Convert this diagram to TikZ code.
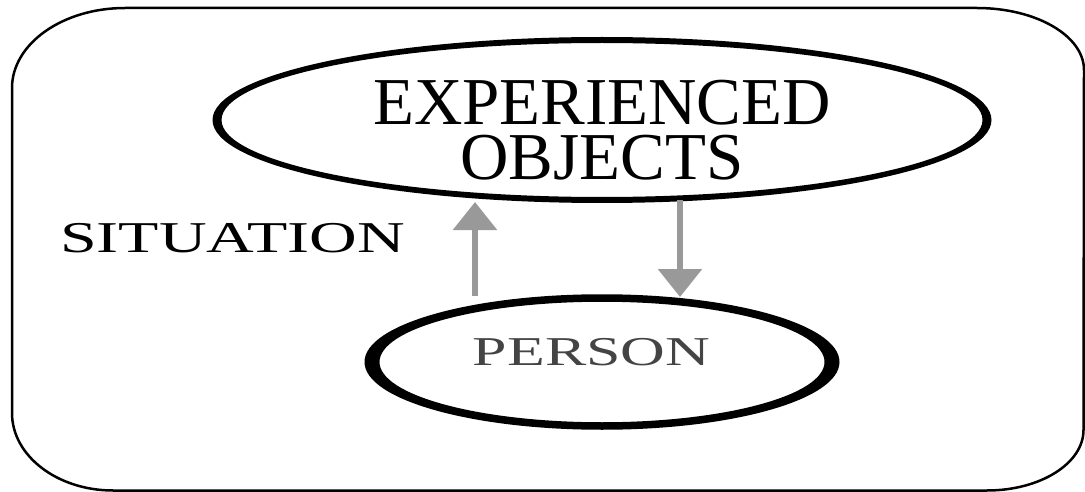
\documentclass[tikz,border=0pt]{standalone}
\usepackage{fontspec}
\setmainfont{Liberation Serif}
\usetikzlibrary{shapes.geometric,arrows.meta}
\definecolor{arrgray}{HTML}{999999}
\definecolor{txtgray}{HTML}{444444}
\tikzset{
  blob/.style={ellipse, draw=none, inner sep=0pt, outer sep=0pt},
  flow/.style={draw=arrgray, line width=6pt, -{Triangle[width=43pt,length=28pt]}},
  frame/.style={draw=black, line width=2.5pt}
}
\begin{document}
\begin{tikzpicture}[x=1pt,y=1pt]
\useasboundingbox (0,0) rectangle (1085,-492);
% outer frame
\draw[frame] (125,-8) -- (977,-8)
  arc[start angle=90, end angle=0, x radius=107, y radius=62]
  -- (1083.5,-430)
  arc[start angle=0, end angle=-90, x radius=96.5, y radius=60.5]
  -- (113,-490.5)
  arc[start angle=270, end angle=180, x radius=101, y radius=77.5]
  -- (12,-88)
  arc[start angle=180, end angle=90, x radius=113, y radius=80];
% ellipses
\node[blob, minimum width=770pt, minimum height=160pt] (exp) at (602,-120) {};
\node[blob, minimum width=460pt, minimum height=128pt] (person) at (602,-362) {};
\fill[black, even odd rule]
  (exp.center) ellipse [x radius=389.5, y radius=83]
  (exp.center) ellipse [x radius=380.5, y radius=77];
\fill[black, even odd rule]
  (person.center) ellipse [x radius=237.5, y radius=67.75]
  (person.center) ellipse [x radius=222.5, y radius=60.25];
% texts
\node[align=center, inner sep=0pt, font=\fontsize{67}{55}\selectfont] (exptxt) at (602,-130) {EXPERIENCED\\OBJECTS};
\node[inner sep=0pt, anchor=base, text=txtgray, font=\fontsize{41}{41}\selectfont] (persontxt) at (591.5,-365) {\scalebox{1.51}[1]{PERSON}};
\node[inner sep=0pt, anchor=base, font=\fontsize{44}{44}\selectfont] (sit) at (232.5,-252) {\scalebox{1.5}[1]{SITUATION}};
% arrows
\draw[flow, shorten <=2pt, shorten >=2pt] ([xshift=-127pt]person.north) -- ([xshift=-127pt]exp.south);
\draw[flow, shorten <=0pt, shorten >=1pt] ([xshift=78pt]exp.south) -- ([xshift=78pt]person.north);
\end{tikzpicture}
\end{document}
